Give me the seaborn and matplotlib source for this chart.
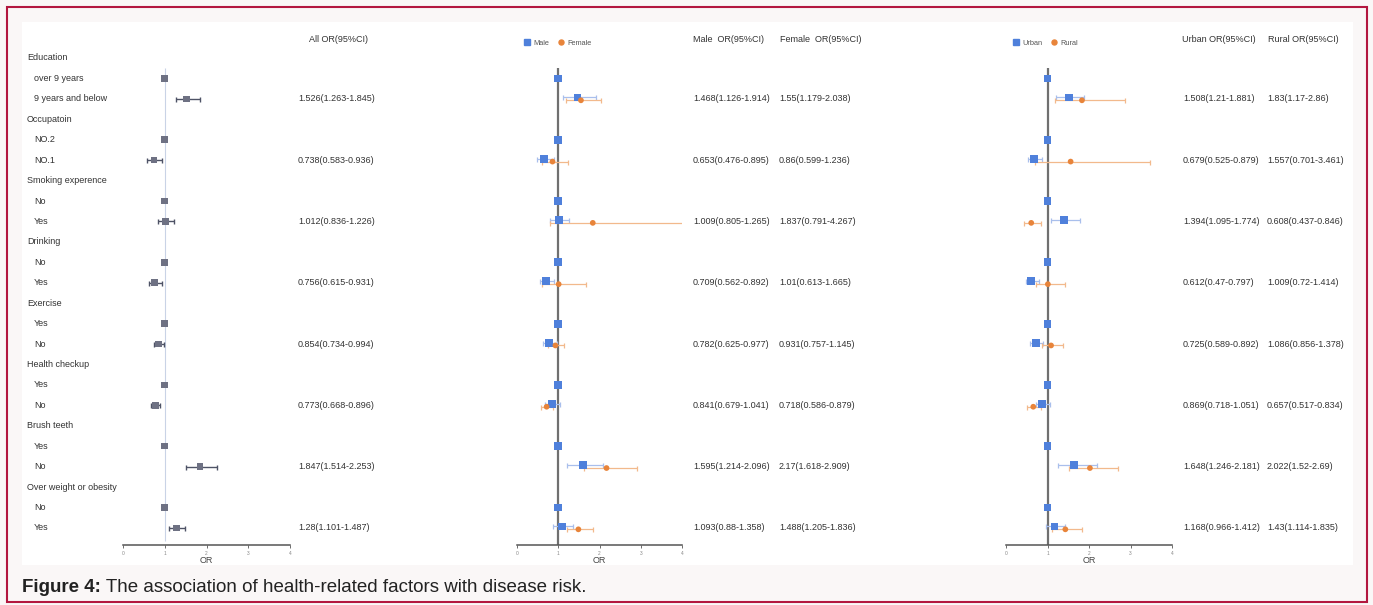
import matplotlib.pyplot as plt
import matplotlib.transforms as mtransforms
from matplotlib.patches import Rectangle
from matplotlib.lines import Line2D
import seaborn as sns

sns.set_theme(style="white")
plt.rcParams['font.family'] = ['Liberation Sans', 'DejaVu Sans']

# ---- data ----
groups = ['Education', 'Occupatoin', 'Smoking experence', 'Drinking',
          'Exercise', 'Health checkup', 'Brush teeth', 'Over weight or obesity']
ref_levels = ['over 9 years', 'NO.2', 'No', 'No', 'Yes', 'Yes', 'Yes', 'No']
cmp_levels = ['9 years and below', 'NO.1', 'Yes', 'Yes', 'No', 'No', 'No', 'Yes']

all_or = [1.526, 0.738, 1.012, 0.756, 0.854, 0.773, 1.847, 1.28]
all_lo = [1.263, 0.583, 0.836, 0.615, 0.734, 0.668, 1.514, 1.101]
all_hi = [1.845, 0.936, 1.226, 0.931, 0.994, 0.896, 2.253, 1.487]

male_or = [1.468, 0.653, 1.009, 0.709, 0.782, 0.841, 1.595, 1.093]
male_lo = [1.126, 0.476, 0.805, 0.562, 0.625, 0.679, 1.214, 0.88]
male_hi = [1.914, 0.895, 1.265, 0.892, 0.977, 1.041, 2.096, 1.358]

female_or = [1.55, 0.86, 1.837, 1.01, 0.931, 0.718, 2.17, 1.488]
female_lo = [1.179, 0.599, 0.791, 0.613, 0.757, 0.586, 1.618, 1.205]
female_hi = [2.038, 1.236, 4.267, 1.665, 1.145, 0.879, 2.909, 1.836]

urban_or = [1.508, 0.679, 1.394, 0.612, 0.725, 0.869, 1.648, 1.168]
urban_lo = [1.21, 0.525, 1.095, 0.47, 0.589, 0.718, 1.246, 0.966]
urban_hi = [1.881, 0.879, 1.774, 0.797, 0.892, 1.051, 2.181, 1.412]

rural_or = [1.83, 1.557, 0.608, 1.009, 1.086, 0.657, 2.022, 1.43]
rural_lo = [1.17, 0.701, 0.437, 0.72, 0.856, 0.517, 1.52, 1.114]
rural_hi = [2.86, 3.461, 0.846, 1.414, 1.378, 0.834, 2.69, 1.835]

ticks = [0, 1, 2, 3, 4]

# ---- layout helpers (pixel based) ----
W, H = 1373, 605
ROW0, ROWSTEP = 58, 20.43


def prow(px):
    return (px - ROW0) / ROWSTEP


def rect(x0, x1, y0, y1):
    return [x0 / W, 1 - y1 / H, (x1 - x0) / W, (y1 - y0) / H]


hdr_rows = [3 * i for i in range(len(groups))]
ref_rows = [3 * i + 1 for i in range(len(groups))]
cmp_rows = [3 * i + 2 for i in range(len(groups))]

fig = plt.figure(figsize=(W / 100, H / 100), dpi=100)
fig.patch.set_facecolor('#faf7f7')

tax = fig.add_axes([0, 0, 1, 1])
tax.set_xlim(0, W)
tax.set_ylim(H, 0)
tax.axis('off')
tax.add_patch(Rectangle((22, 22), 1331, 543, facecolor='white', edgecolor='none'))
tax.add_patch(Rectangle((7, 7), 1360, 595, facecolor='none', edgecolor='#b3173f', lw=1.5))


def forest_axes(x0, x1):
    ax = fig.add_axes(rect(x0, x1, 40, 545))
    ax.set_xlim(0, 4)
    ax.set_ylim(prow(545), prow(40))
    ax.patch.set_alpha(0)
    for s in ['top', 'right', 'left']:
        ax.spines[s].set_visible(False)
    ax.spines['bottom'].set_color('#555555')
    ax.spines['bottom'].set_linewidth(1.1)
    ax.set_xticks(ticks)
    ax.set_xticklabels([str(t) for t in ticks])
    ax.tick_params(axis='x', bottom=True, length=2.5, width=0.6, color='#555555',
                   labelsize=3.5, labelcolor='#888888', pad=1.5)
    ax.set_yticks([])
    ax.set_xlabel('OR', fontsize=6.5, color='#444444', labelpad=0.5)
    return ax


def whiskers(ax, x, lo, hi, y, color, lw=0.9):
    ax.errorbar(x, y, xerr=[[a - b for a, b in zip(x, lo)], [b - a for a, b in zip(x, hi)]],
                fmt='none', ecolor=color, elinewidth=lw, capsize=1.8, capthick=lw, zorder=2)


# ---- panel 1 : all ----
ax1 = forest_axes(123, 290)
ax1.vlines(1, 0.5, prow(541), color='#c9d3e6', lw=0.8, zorder=1)
whiskers(ax1, all_or, all_lo, all_hi, cmp_rows, '#4e5366', lw=1.0)
sns.scatterplot(x=[1] * len(ref_rows) + all_or, y=ref_rows + cmp_rows, ax=ax1,
                marker='s', s=22, color='#6e7183', edgecolor='none', zorder=3)

# ---- panels 2 and 3 : stratified ----
d = 0.07
panels = [
    (517, 682, male_or, male_lo, male_hi, female_or, female_lo, female_hi, ['Male', 'Female']),
    (1006, 1172, urban_or, urban_lo, urban_hi, rural_or, rural_lo, rural_hi, ['Urban', 'Rural']),
]
for x0, x1, a_or, a_lo, a_hi, b_or, b_lo, b_hi, names in panels:
    ax = forest_axes(x0, x1)
    ax.vlines(1, prow(68), prow(545), color='#707070', lw=1.6, zorder=1)
    ya = [r - d for r in cmp_rows]
    yb = [r + d for r in cmp_rows]
    whiskers(ax, a_or, a_lo, a_hi, ya, '#a9bfec')
    whiskers(ax, b_or, b_lo, b_hi, yb, '#f2b98c')
    sns.scatterplot(x=[1] * len(ref_rows) + a_or, y=ref_rows + ya, ax=ax,
                    marker='s', s=32, color='#4f80db', edgecolor='none', zorder=3)
    sns.scatterplot(x=b_or, y=yb, ax=ax, marker='o', s=17,
                    color='#e8843a', edgecolor='none', zorder=4)
    handles = [Line2D([], [], ls='none', marker='s', ms=4, color='#4f80db', label=names[0]),
               Line2D([], [], ls='none', marker='o', ms=3.6, color='#e8843a', label=names[1])]
    ax.legend(handles=handles, loc='center left', bbox_to_anchor=((x0 + 3) / W, 1 - 43 / H),
              bbox_transform=fig.transFigure, ncol=2, frameon=False, fontsize=5.3,
              handlelength=0.8, handletextpad=0.5, columnspacing=1.2, borderpad=0,
              labelcolor='#555555')

# ---- text columns ----
tr = mtransforms.blended_transform_factory(tax.transData, ax1.transData)
tc = '#333333'
fs = 6.5
for i, g in enumerate(groups):
    tax.text(27, hdr_rows[i], g, transform=tr, fontsize=fs, color=tc, va='center')
    tax.text(34, ref_rows[i], ref_levels[i], transform=tr, fontsize=fs, color=tc, va='center')
    tax.text(34, cmp_rows[i], cmp_levels[i], transform=tr, fontsize=fs, color=tc, va='center')


def fmt(o, lo, hi):
    return f'{o:g}({lo:g}-{hi:g})'


columns = [
    (298, 'All OR(95%CI)', 309, all_or, all_lo, all_hi),
    (693, 'Male  OR(95%CI)', 693, male_or, male_lo, male_hi),
    (779, 'Female  OR(95%CI)', 780, female_or, female_lo, female_hi),
    (1183, 'Urban OR(95%CI)', 1182, urban_or, urban_lo, urban_hi),
    (1267, 'Rural OR(95%CI)', 1268, rural_or, rural_lo, rural_hi),
]
for xv, title, xt, o, lo, hi in columns:
    tax.text(xt, 39, title, fontsize=fs, color=tc, va='center')
    for i in range(len(groups)):
        tax.text(xv, cmp_rows[i], fmt(o[i], lo[i], hi[i]), transform=tr,
                 fontsize=fs, color=tc, va='center')

# ---- caption ----
t1 = tax.text(22, 588, 'Figure 4:', fontsize=13.5, fontweight='bold', color='#222222', va='center')
tax.annotate(' The association of health-related factors with disease risk.', xy=(1, 0.5),
             xycoords=t1, va='center', fontsize=13.5, color='#222222')

fig.savefig('out.png', dpi=100, facecolor=fig.get_facecolor())
